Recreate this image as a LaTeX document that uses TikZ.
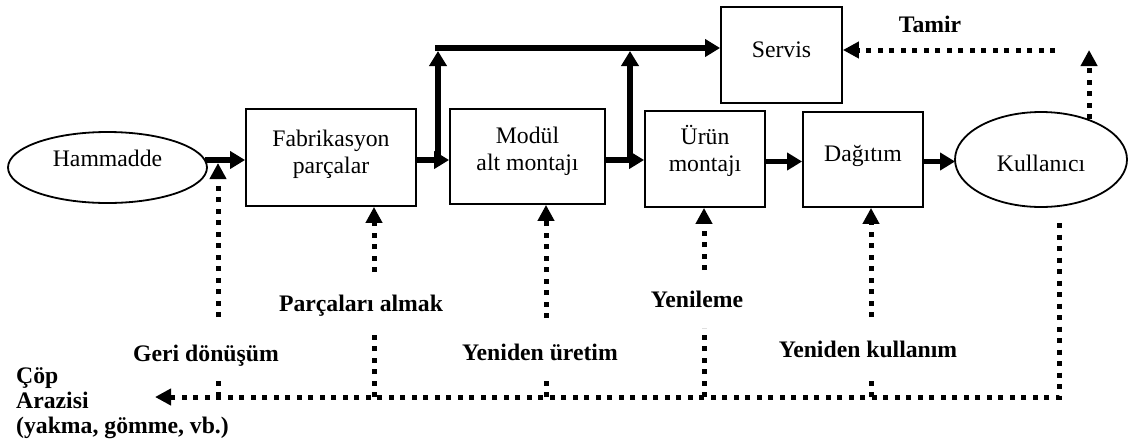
\documentclass[tikz,border=0pt]{standalone}
\usepackage{fontspec}
\setmainfont{Liberation Serif}
\usetikzlibrary{arrows.meta,shapes.geometric,calc}

\begin{document}
\begin{tikzpicture}[x=1pt,y=-1pt,
  txt/.style={inner sep=0pt,align=center,font=\fontsize{23.7}{27}\selectfont},
  lbl/.style={inner sep=0pt,anchor=base,font=\fontsize{23.7}{27}\selectfont\bfseries},
  box/.style={draw,line width=1.8pt,rectangle,inner sep=0pt},
  oval/.style={draw,line width=1.8pt,ellipse,inner sep=0pt},
  flow/.style={line width=5.5pt,-{Triangle[length=15pt,width=17pt]}},
  loop/.style={line width=5pt,dash pattern=on 5pt off 6.5pt},
  looparrow/.style={loop,-{Triangle[length=16pt,width=16pt]}}
]
\path[fill=white,use as bounding box] (0,0) rectangle (1131,445);

% life-cycle stages
\node[oval,minimum width=199pt,minimum height=71pt] (hm) at (107.5,167.5) {};
\node[txt] (hmt) at (107.5,158.5) {Hammadde};

\node[box,minimum width=170pt,minimum height=97pt] (fab) at (331,157.5) {};
\node[txt] (fabt) at (331,154.5) {Fabrikasyon\\parçalar};

\node[box,minimum width=155pt,minimum height=95pt] (mod) at (527.5,156.5) {};
\node[txt] (modt) at (527.5,151) {Modül\\alt montajı};

\node[box,minimum width=120pt,minimum height=96pt] (urun) at (705,159) {};
\node[txt] (urunt) at (705,151) {Ürün\\montajı};

\node[box,minimum width=121pt,minimum height=96pt] (sv) at (781.5,55) {};
\node[txt] (svt) at (781.5,50) {Servis};

\node[box,minimum width=120pt,minimum height=95pt] (dag) at (863,159.5) {};
\node[txt] (dagt) at (863,156) {Dağıtım};

\node[oval,minimum width=172pt,minimum height=95pt] (ku) at (1041,159.5) {};
\node[txt] (kut) at (1041,163.5) {Kullanıcı};

% forward flow
\coordinate (y1) at (0,160);
\coordinate (y2) at (0,161.5);
\draw[flow] ($(hm.east |- y1)+(-3,0)$) -- (fab.west |- y1);
\draw[flow] (fab.east |- y1) -- (mod.west |- y1);
\draw[flow] (mod.east |- y1) -- (urun.west |- y1);
\draw[flow] (urun.east |- y2) -- (dag.west |- y2);
\draw[flow] (dag.east |- y2) -- ($(ku.west |- y2)+(1,0)$);

% branches to service
\coordinate (b1) at (438,160);
\coordinate (b1t) at (438,48);
\coordinate (b2) at (630,160);
\coordinate (b2t) at (630,48);
\draw[flow] (b1) -- ($(b1t)+(0,3)$);
\draw[flow] (b2) -- ($(b2t)+(0,3)$);
\draw[flow] ($(b1t)+(-2.75,0)$) -- (sv.west |- b1t);

% repair loop
\coordinate (tm) at (1055,50);
\draw[looparrow] (tm) -- (sv.east |- tm);
\draw[looparrow] (ku.40) -- (ku.40 |- tm);
\node[lbl] (tamir) at (930,32) {Tamir};

% end of life: to landfill
\coordinate (kd) at (1059,223);
\coordinate (dump) at (155,397);
\draw[looparrow] (kd) |- (dump);
\node[lbl,anchor=base west] (cop1) at (16,383) {Çöp};
\node[lbl,anchor=base west] (cop2) at (16,408) {Arazisi};
\node[lbl,anchor=base west] (cop3) at (16,433) {(yakma, gömme, vb.)};

% recovery loops
\node[lbl] (gd) at (206,361) {Geri dönüşüm};
\draw[loop] (218,397) -- (218,377);
\draw[looparrow] (218,317) -- (218,163);

\node[lbl] (pa) at (361,311) {Parçaları almak};
\draw[loop] (374,397) -- (374,330);
\draw[looparrow] (374,272) -- (fab.south -| 374,0);

\node[lbl] (yu) at (540,360) {Yeniden üretim};
\draw[loop] (546,397) -- (546,378);
\draw[looparrow] (546,318) -- (mod.south -| 546,0);

\node[lbl] (yl) at (697,307) {Yenileme};
\draw[loop] (704,397) -- (704,328);
\draw[looparrow] (704,270) -- (urun.south -| 704,0);

\node[lbl] (yk) at (868,357) {Yeniden kullanım};
\draw[loop] (871,397) -- (871,376);
\draw[looparrow] (871,317) -- (dag.south -| 871,0);
\end{tikzpicture}
\end{document}
